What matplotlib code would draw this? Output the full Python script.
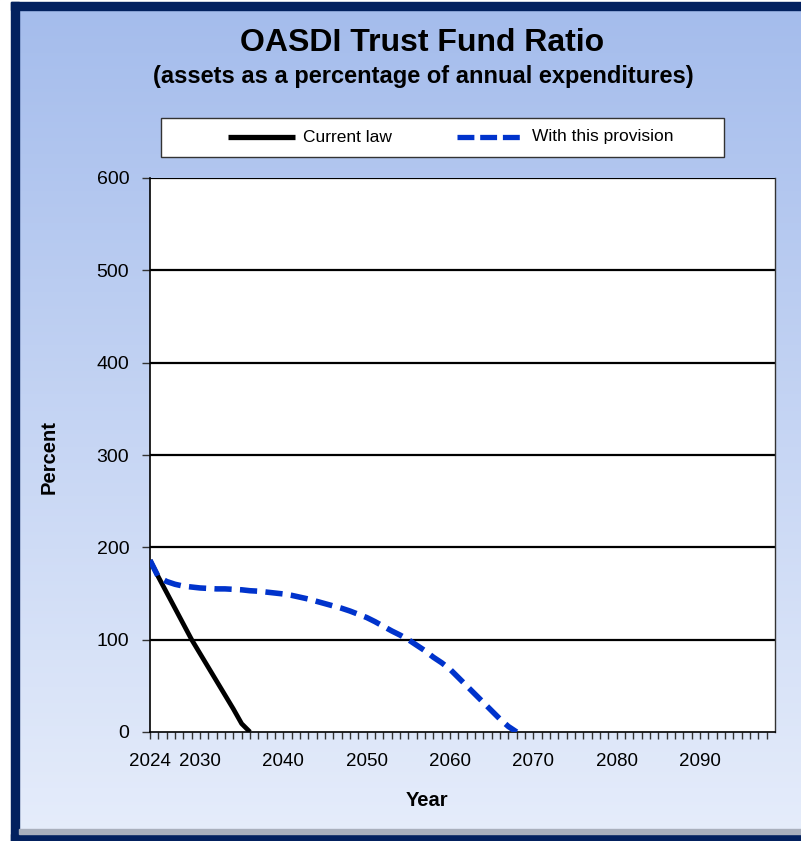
import matplotlib
matplotlib.use("Agg")
import matplotlib.pyplot as plt
import numpy as np
from matplotlib import font_manager
from matplotlib.patches import Rectangle
from matplotlib.lines import Line2D

plt.rcParams["font.family"] = ["Liberation Sans", "DejaVu Sans"]

# データ
years_current = [2024, 2025, 2026, 2027, 2028, 2029, 2030, 2031, 2032, 2033, 2034, 2035, 2036]
ratio_current = [186, 168, 151, 134, 117, 100, 85, 70, 55, 40, 25, 9, 0]

years_provision = list(range(2024, 2069))
ratio_provision = [186, 168, 163, 160, 158, 157, 156, 155.5, 155, 155, 154.5, 154, 153,
                   152.5, 151.5, 150.5, 149.5, 148, 146, 144, 141.5, 139, 136.5, 134,
                   131, 127.5, 124, 119.5, 114.5, 109.5, 105, 100, 94, 88, 81, 75, 68,
                   59, 50, 41, 32, 23, 14, 6, 0]

year_labels = [2024, 2030, 2040, 2050, 2060, 2070, 2080, 2090]
y_ticks = [0, 100, 200, 300, 400, 500, 600]
series_names = ["Current law", "With this provision"]

BLUE = "#0033cc"
NAVY = "#03215f"
W, H = 801, 841

# タイトル用の細めのフォント（なければ通常のArial相当）
try:
    font_manager.findfont("Liberation Sans Narrow", fallback_to_default=False)
    title_family = ["Liberation Sans Narrow", "DejaVu Sans"]
    title_size = 28
except ValueError:
    title_family = ["Liberation Sans", "DejaVu Sans"]
    title_size = 23

fig = plt.figure(figsize=(W / 100, H / 100), dpi=100)
fig.patch.set_facecolor("white")

# 背景グラデーション
bg = fig.add_axes([0, 0, 1, 1], zorder=-10)
top = np.array([164, 188, 236]) / 255.0
bot = np.array([230, 237, 251]) / 255.0
t = np.linspace(0, 1, 256)[:, None]
grad = top[None, :] * (1 - t) + bot[None, :] * t
bg.imshow(grad[:, None, :], aspect="auto", extent=[0, 1, 0, 1], origin="upper")
bg.set_xlim(0, 1)
bg.set_ylim(0, 1)
bg.axis("off")

# 枠
bg.add_patch(Rectangle((0, 0), 11 / W, 1, color="white", transform=bg.transAxes))
bg.add_patch(Rectangle((0, 1 - 2 / H), 1, 2 / H, color="white", transform=bg.transAxes))
bg.add_patch(Rectangle((11 / W, 0), 8 / W, 1 - 2 / H, color=NAVY, transform=bg.transAxes))
bg.add_patch(Rectangle((11 / W, 1 - 10 / H), 1, 8 / H, color=NAVY, transform=bg.transAxes))
bg.add_patch(Rectangle((11 / W, 0), 1, 7 / H, color=NAVY, transform=bg.transAxes))
bg.add_patch(Rectangle((19 / W, 7 / H), 1, 5 / H, color="#a9b0bd", transform=bg.transAxes))

# タイトル
fig.text(422 / W, 1 - 43 / H, "OASDI Trust Fund Ratio", ha="center", va="center",
         fontsize=title_size, fontweight="bold", family=title_family)
fig.text(423 / W, 1 - 76 / H, "(assets as a percentage of annual expenditures)",
         ha="center", va="center", fontsize=17, fontweight="bold")

# メインのグラフ
ax = fig.add_axes([150 / W, 1 - 732 / H, 625 / W, 554 / H])
ax.set_facecolor("white")
for yv in y_ticks[1:]:
    ax.axhline(yv, color="black", lw=1.6, zorder=1)
ax.plot(years_current, ratio_current, color="black", lw=3.4, zorder=3,
        solid_capstyle="butt")
ax.plot(years_provision, ratio_provision, color=BLUE, lw=4.0, zorder=4,
        dashes=(3.1, 1.5))

ax.set_xlim(2024, 2099)
ax.set_ylim(0, 600)
ax.set_yticks(y_ticks)
ax.set_yticklabels([str(v) for v in y_ticks], fontsize=14)
all_years = list(range(2024, 2099))
ax.set_xticks(all_years)
ax.set_xticklabels([str(y) if y in year_labels else "" for y in all_years],
                   fontsize=13.5)
ax.tick_params(axis="x", direction="out", length=5, width=1, color="#333333", pad=10)
ax.tick_params(axis="y", direction="out", length=6, width=1, color="#333333", pad=9)
ax.spines["left"].set_linewidth(1.2)
ax.spines["bottom"].set_linewidth(1.2)
ax.spines["right"].set_linewidth(1.0)
ax.spines["right"].set_color("#333333")
ax.spines["top"].set_visible(False)

fig.text(49 / W, 1 - 457 / H, "Percent", rotation=90, ha="center", va="center",
         fontsize=14.5, fontweight="bold")
fig.text(427 / W, 1 - 801 / H, "Year", ha="center", va="center",
         fontsize=14.5, fontweight="bold")

# 凡例（手描き）
fig.add_artist(Rectangle((161 / W, 1 - 157 / H), 563 / W, 39 / H, transform=fig.transFigure,
                         facecolor="white", edgecolor="#333333", lw=1.0))
fig.add_artist(Line2D([228 / W, 295 / W], [1 - 137 / H] * 2, transform=fig.transFigure,
                      color="black", lw=3.8, solid_capstyle="butt"))
fig.add_artist(Line2D([457 / W, 523 / W], [1 - 137 / H] * 2, transform=fig.transFigure,
                      color=BLUE, lw=3.8, dashes=(3.2, 1.1), dash_capstyle="butt"))
fig.text(303 / W, 1 - 137 / H, series_names[0], ha="left", va="center", fontsize=12.5)
fig.text(532 / W, 1 - 137 / H, series_names[1], ha="left", va="center", fontsize=12.5)

fig.savefig("out.png", dpi=100)
